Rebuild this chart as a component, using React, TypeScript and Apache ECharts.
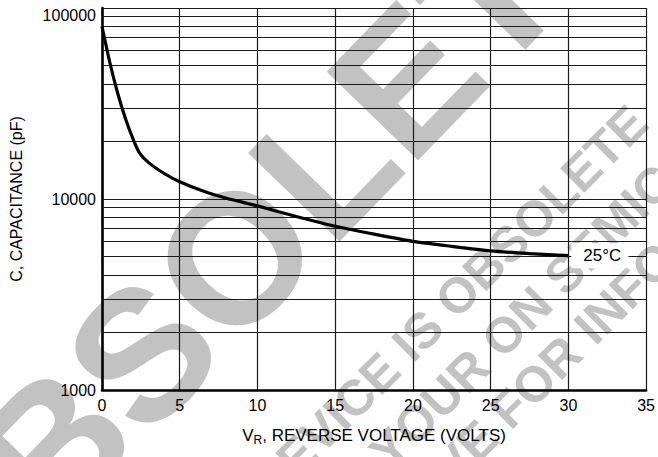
import React, { useEffect, useRef } from "react";
import * as echarts from "echarts";

// Reverse voltage (V) and capacitance (pF) read from the 25°C curve
const voltage = [0, 0.5, 1, 1.5, 2, 2.4, 3, 4, 5, 6.5, 8, 10, 12.5, 15, 17.5, 20, 22.5, 25, 27.5, 30];
const capacitance = [80000, 52000, 36000, 26500, 20600, 17500, 15500, 13600, 12300, 11000, 10100, 9200, 8100, 7200, 6550, 6000, 5650, 5350, 5180, 5050];

const minorGridValues = [2000, 3000, 4000, 5000, 6000, 7000, 8000, 9000, 20000, 30000, 40000, 50000, 60000, 70000, 80000, 90000];
const curveLabel = "25°C";
const xAxisTitleMain = "V";
const xAxisTitleSub = "R";
const xAxisTitleRest = ", REVERSE VOLTAGE (VOLTS)";
const yAxisTitle = "C, CAPACITANCE (pF)";
const watermarkBig = "OBSOLETE";
const watermarkLines = [
  "THIS DEVICE IS OBSOLETE",
  "CONSULT YOUR ON SEMICONDUCTOR",
  "REPRESENTATIVE FOR INFORMATION",
];

const FONT = "'Liberation Sans', Arial, Helvetica, sans-serif";

export default function App() {
  const ref = useRef<HTMLDivElement>(null);

  useEffect(() => {
    if (!ref.current) return;
    const chart = echarts.init(ref.current, undefined, { renderer: "svg" });
    const wmColor = "#c2c2c2";
    const lineAnchors = [
      [404, 349],
      [535, 304],
      [502, 416],
    ];

    const option: any = {
      animation: false,
      backgroundColor: "#fff",
      textStyle: { fontFamily: FONT },
      grid: { left: 101, right: 10, top: 8, bottom: 67, containLabel: false },
      graphic: {
        elements: [
          {
            type: "text",
            z: 0,
            x: 260,
            y: 232,
            rotation: (46 * Math.PI) / 180,
            silent: true,
            style: {
              text: watermarkBig,
              fontSize: 185,
              fontWeight: "bold",
              fontFamily: FONT,
              fill: wmColor,
              align: "center",
              verticalAlign: "middle",
            },
          },
          ...watermarkLines.map((t, i) => ({
            type: "text",
            z: 0,
            x: lineAnchors[i][0],
            y: lineAnchors[i][1],
            rotation: Math.PI / 4,
            silent: true,
            style: {
              text: t,
              fontSize: 50,
              fontWeight: "bold",
              fontFamily: FONT,
              fill: wmColor,
              align: "center",
              verticalAlign: "middle",
            },
          })),
        ],
      },
      xAxis: {
        type: "value",
        z: 3,
        min: 0,
        max: 35,
        interval: 5,
        axisLine: { show: true, onZero: false, lineStyle: { color: "#000", width: 2.6 } },
        axisTick: { show: false },
        axisLabel: { color: "#000", fontSize: 16, margin: 7, fontFamily: FONT },
        splitLine: { show: true, lineStyle: { color: "#1a1a1a", width: 1.2 } },
        name: `{v|${xAxisTitleMain}}{s|${xAxisTitleSub}}{v|${xAxisTitleRest}}`,
        nameLocation: "middle",
        nameGap: 34,
        nameTextStyle: {
          rich: {
            v: { fontSize: 17, color: "#000", fontFamily: FONT, lineHeight: 22, verticalAlign: "middle" },
            s: { fontSize: 12, color: "#000", fontFamily: FONT, lineHeight: 22, verticalAlign: "bottom" },
          },
        },
      },
      yAxis: {
        type: "log",
        z: 3,
        logBase: 10,
        min: 1000,
        max: 100000,
        axisLine: { show: true, lineStyle: { color: "#000", width: 2.6 } },
        axisTick: { show: false },
        axisLabel: {
          color: "#000",
          fontSize: 16,
          margin: 6,
          fontFamily: FONT,
          formatter: (v: number) => {
            const s = String(Math.round(v));
            return Math.round(v) === 100000 ? `{t|${s}}` : s;
          },
          rich: { t: { fontSize: 16, color: "#000", fontFamily: FONT, padding: [14, 0, 0, 0] } },
        },
        splitLine: { show: true, lineStyle: { color: "#1a1a1a", width: 1.2 } },
        name: yAxisTitle,
        nameLocation: "middle",
        nameGap: 78,
        nameTextStyle: { fontSize: 16, color: "#000", fontFamily: FONT },
      },
      series: [
        {
          type: "line",
          z: 3,
          data: [],
          silent: true,
          markLine: {
            silent: true,
            symbol: ["none", "none"],
            label: { show: false },
            lineStyle: { color: "#1a1a1a", width: 1.2, type: "solid" },
            emphasis: { disabled: true },
            data: minorGridValues.map((v) => ({ yAxis: v })),
          },
        },
        {
          type: "line",
          z: 5,
          data: voltage.map((x, i) => [x, capacitance[i]]),
          showSymbol: false,
          smooth: 0.2,
          lineStyle: { color: "#000", width: 3.2 },
          endLabel: {
            show: true,
            formatter: curveLabel,
            distance: 3,
            color: "#000",
            fontSize: 17,
            fontFamily: FONT,
            backgroundColor: "#fff",
            padding: [4, 7, 4, 12],
          },
        },
      ],
    };

    chart.setOption(option);
    return () => chart.dispose();
  }, []);

  return (
    <div
      ref={ref}
      style={{ position: "fixed", left: 0, top: 0, width: 658, height: 457 }}
    />
  );
}
